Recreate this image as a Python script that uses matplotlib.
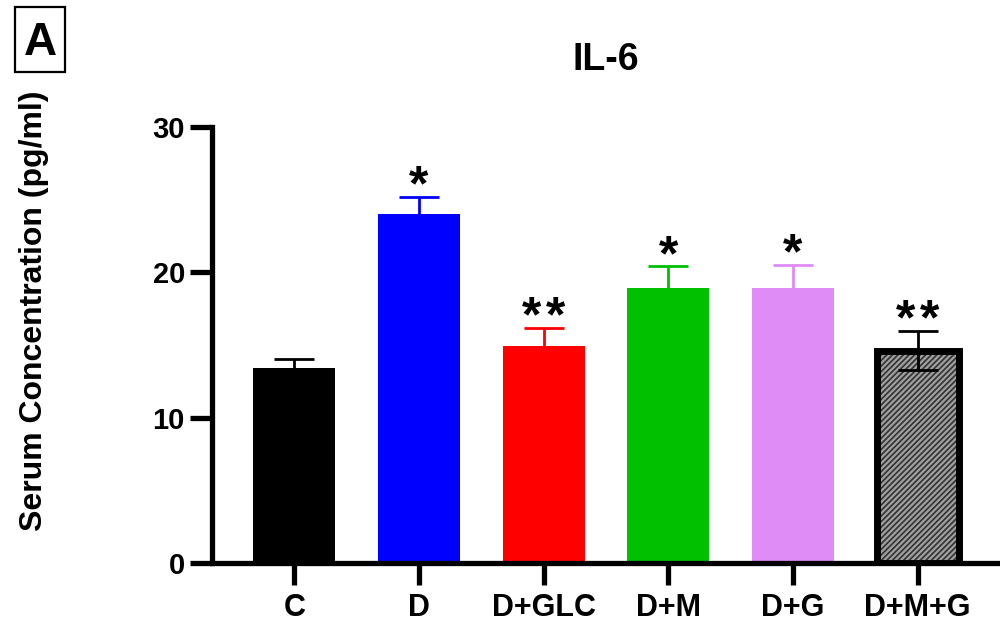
import numpy as np
import matplotlib.pyplot as plt
from matplotlib.patches import Rectangle

plt.rcParams['font.family'] = ['Liberation Sans', 'DejaVu Sans']
plt.rcParams['font.weight'] = 'bold'
plt.rcParams['hatch.linewidth'] = 1.6

groups = ['C', 'D', 'D+GLC', 'D+M', 'D+G', 'D+M+G']
means = [13.4, 24.0, 14.9, 18.9, 18.9, 14.6]
sems = [0.6, 1.2, 1.3, 1.5, 1.6, 1.35]
colors = ['#000000', '#0000ff', '#ff0000', '#00c000', '#df8cf7', '#333333']
stars = [0, 1, 2, 1, 1, 2]

fig = plt.figure(figsize=(10, 6.23), dpi=100)
ax = fig.add_axes([0.212, 0.0963, 0.788, 0.7])

x = np.arange(len(groups))
w = 0.66

for i in range(len(groups)):
    last = i == len(groups) - 1
    ecol = 'black' if last else colors[i]
    ax.errorbar(x[i], means[i], yerr=sems[i], color=ecol, capsize=14.5,
                elinewidth=2, capthick=2, zorder=4 if last else 1)
    if last:
        ax.bar(x[i], means[i], w, color=colors[i], edgecolor='#a0a0a0',
               hatch='//////', linewidth=0, zorder=2)
        ax.bar(x[i], means[i], w, facecolor='none', edgecolor='black',
               linewidth=5, zorder=3)
    else:
        ax.bar(x[i], means[i], w, color=colors[i], zorder=2)
    n = stars[i]
    for k in range(n):
        dx = (k - (n - 1) / 2) * 0.19
        ax.text(x[i] + dx, means[i] + sems[i] - 0.25, '*', ha='center',
                va='baseline', fontsize=36, fontweight='bold')

ax.set_xlim(-0.66, 5.66)
ax.set_ylim(0, 30)
ax.set_yticks([0, 10, 20, 30])
ax.set_xticks(x)
ax.set_xticklabels(groups)
for s in ['top', 'right']:
    ax.spines[s].set_visible(False)
for s in ['left', 'bottom']:
    ax.spines[s].set_linewidth(3.8)
ax.tick_params(axis='both', width=3.8, length=15.5)
ax.tick_params(axis='y', labelsize=21, pad=4)
ax.tick_params(axis='x', labelsize=22, pad=6)
for lab in ax.get_xticklabels() + ax.get_yticklabels():
    lab.set_fontweight('bold')

fig.text(0.034, 0.502, 'Serum Concentration (pg/ml)', rotation=90,
         ha='center', va='center', fontsize=23, fontweight='bold')
fig.text(0.606, 0.8876, 'IL-6', ha='center', va='baseline', fontsize=27,
         fontweight='bold')
fig.text(0.04, 0.9117, 'A', ha='center', va='baseline', fontsize=33,
         fontweight='bold')
fig.add_artist(Rectangle((0.015, 0.8844), 0.05, 0.1043, transform=fig.transFigure,
                         facecolor='none', edgecolor='black', linewidth=1.6))

fig.savefig('out.png', dpi=100)
